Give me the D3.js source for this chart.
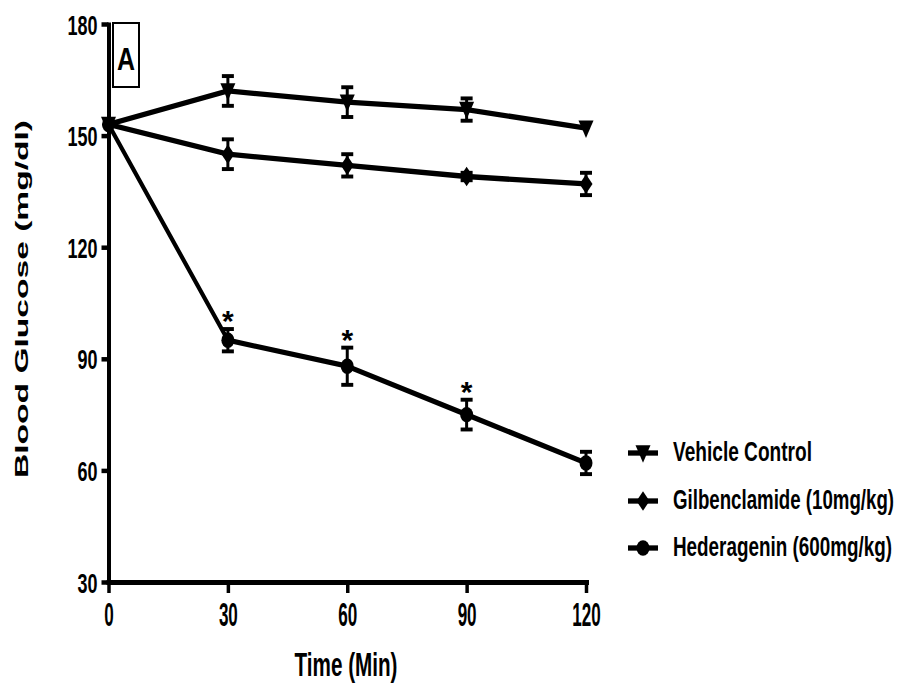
<!DOCTYPE html>
<html>
<head>
<meta charset="utf-8">
<script src="https://cdn.jsdelivr.net/npm/d3@7"></script>
<style>
  body { margin: 0; background: #fff; }
  svg { display: block; }
</style>
</head>
<body>
<svg id="chart"></svg>
<script>
// values
const times = [0, 30, 60, 90, 120];
const yTicks = [30, 60, 90, 120, 150, 180];

const vehicleMean = [153, 162, 159, 157, 152];
const vehicleSem  = [0, 4, 4, 3, 0];
const gilbMean    = [153, 145, 142, 139, 137];
const gilbSem     = [0, 4, 3, 1, 3];
const hedMean     = [153, 95, 88, 75, 62];
const hedSem      = [0, 3, 5, 4, 3];
const hedSignif   = [false, true, true, true, false];

const seriesNames = ['Vehicle Control', 'Gilbenclamide (10mg/kg)', 'Hederagenin (600mg/kg)'];

const narrow = '"Liberation Sans Narrow", "Arial Narrow", "Liberation Sans", Arial, sans-serif';
const wide = '"Liberation Sans", Arial, sans-serif';

const W = 899, H = 684;
// the original figure is stretched vertically, marks are drawn in a stretched group
const k = 1.4;

const svg = d3.select('#chart').attr('width', W).attr('height', H);

const x = d3.scaleLinear().domain([0, 120]).range([108.5, 586]);
const y = d3.scaleLinear().domain([30, 180]).range([582, 24]);
const yS = d3.scaleLinear().domain([30, 180]).range([582 / k, 24 / k]);

// marker shapes (in stretched space)
function markerPath(kind) {
  if (kind === 'tri') return 'M-7.5,-5.5L7.5,-5.5L0,7Z';
  if (kind === 'dia') return 'M0,-7L6.5,0L0,7L-6.5,0Z';
  return 'M-6.5,0A6.5,5.5,0,1,0,6.5,0A6.5,5.5,0,1,0,-6.5,0Z';
}

const series = [
  {name: seriesNames[0], mean: vehicleMean, sem: vehicleSem, kind: 'tri'},
  {name: seriesNames[1], mean: gilbMean, sem: gilbSem, kind: 'dia'},
  {name: seriesNames[2], mean: hedMean, sem: hedSem, kind: 'circ', sig: hedSignif}
];

// axes
const yAxis = svg.append('g')
    .attr('transform', `translate(${x(0)},0)`)
    .call(d3.axisLeft(y).tickValues(yTicks).tickSize(7).tickSizeOuter(0).tickPadding(4));
const xAxis = svg.append('g')
    .attr('transform', `translate(0,${y(30)})`)
    .call(d3.axisBottom(x).tickValues(times).tickSize(11).tickSizeOuter(0).tickPadding(10));

yAxis.select('.domain').attr('stroke', '#000').attr('stroke-width', 4).attr('stroke-linecap', 'square');
xAxis.select('.domain').attr('stroke', '#000').attr('stroke-width', 5).attr('stroke-linecap', 'square');
yAxis.selectAll('.tick line').attr('stroke', '#000').attr('stroke-width', 4.5);
xAxis.selectAll('.tick line').attr('stroke', '#000').attr('stroke-width', 3.5);

yAxis.selectAll('.tick text')
    .attr('font-family', narrow).attr('font-weight', 'bold').attr('font-size', 28)
    .attr('fill', '#000').attr('dy', '0.36em')
    .attr('textLength', d => String(d).length * 10)
    .attr('lengthAdjust', 'spacingAndGlyphs');

xAxis.selectAll('.tick text')
    .attr('font-family', narrow).attr('font-weight', 'bold').attr('font-size', 33)
    .attr('fill', '#000').attr('dy', '0.71em')
    .attr('textLength', d => String(d).length * 9.5)
    .attr('lengthAdjust', 'spacingAndGlyphs');

// axis titles
svg.append('text')
    .attr('transform', `translate(28,299) rotate(-90)`)
    .attr('text-anchor', 'middle')
    .attr('font-family', wide).attr('font-weight', 'bold').attr('font-size', 19)
    .attr('textLength', 358).attr('lengthAdjust', 'spacingAndGlyphs')
    .text('Blood Glucose (mg/dl)');

svg.append('text')
    .attr('x', 346).attr('y', 676)
    .attr('text-anchor', 'middle')
    .attr('font-family', narrow).attr('font-weight', 'bold').attr('font-size', 33)
    .attr('textLength', 103).attr('lengthAdjust', 'spacingAndGlyphs')
    .text('Time (Min)');

// panel label
svg.append('rect')
    .attr('x', 113).attr('y', 23).attr('width', 26).attr('height', 64)
    .attr('fill', '#fff').attr('stroke', '#000').attr('stroke-width', 2);
svg.append('text')
    .attr('x', 126).attr('y', 70).attr('text-anchor', 'middle')
    .attr('font-family', narrow).attr('font-weight', 'bold').attr('font-size', 32)
    .attr('textLength', 18).attr('lengthAdjust', 'spacingAndGlyphs')
    .text('A');

// lines, error bars, markers
const plot = svg.append('g').attr('transform', `scale(1,${k})`);
const line = d3.line().x((d, i) => x(times[i])).y(d => yS(d));

series.forEach(s => {
  const g = plot.append('g');
  g.append('path')
      .attr('d', line(s.mean))
      .attr('fill', 'none').attr('stroke', '#000').attr('stroke-width', 3.8)
      .attr('stroke-linejoin', 'round');

  const pts = s.mean.map((m, i) => ({t: times[i], m: m, e: s.sem[i], sig: s.sig ? s.sig[i] : false}));
  const eb = g.selectAll('.eb').data(pts.filter(d => d.e > 0)).join('g').attr('class', 'eb');
  eb.append('line')
      .attr('x1', d => x(d.t)).attr('x2', d => x(d.t))
      .attr('y1', d => yS(d.m + d.e)).attr('y2', d => yS(d.m - d.e))
      .attr('stroke', '#000').attr('stroke-width', 3);
  [1, -1].forEach(sgn => {
    eb.append('line')
        .attr('x1', d => x(d.t) - 6).attr('x2', d => x(d.t) + 6)
        .attr('y1', d => yS(d.m + sgn * d.e)).attr('y2', d => yS(d.m + sgn * d.e))
        .attr('stroke', '#000').attr('stroke-width', 2.8);
  });

  g.selectAll('.mk').data(pts).join('path')
      .attr('class', 'mk')
      .attr('transform', d => `translate(${x(d.t)},${yS(d.m)})`)
      .attr('d', markerPath(s.kind))
      .attr('fill', '#000');

  // significance stars, drawn unstretched
  svg.selectAll('.sig').data(pts.filter(d => d.sig)).join('text')
      .attr('class', 'sig')
      .attr('x', d => x(d.t)).attr('y', d => y(d.m + d.e) + 2)
      .attr('text-anchor', 'middle')
      .attr('font-family', wide).attr('font-weight', 'bold').attr('font-size', 30)
      .text('*');
});

// legend
const legendY = [453, 501, 548];
const leg = svg.selectAll('.leg').data(series).join('g')
    .attr('class', 'leg')
    .attr('transform', (d, i) => `translate(643,${legendY[i]})`);
const legMark = leg.append('g').attr('transform', `scale(1,${k})`);
legMark.append('line')
    .attr('x1', -15).attr('x2', 15)
    .attr('stroke', '#000').attr('stroke-width', 3.8);
legMark.append('path')
    .attr('d', d => markerPath(d.kind))
    .attr('fill', '#000');
leg.append('text')
    .attr('transform', 'translate(30,8) scale(1,1.5)')
    .attr('font-family', narrow).attr('font-weight', 'bold').attr('font-size', 18)
    .attr('textLength', (d, i) => [139, 221, 219][i])
    .attr('lengthAdjust', 'spacingAndGlyphs')
    .text(d => d.name);
</script>
</body>
</html>
